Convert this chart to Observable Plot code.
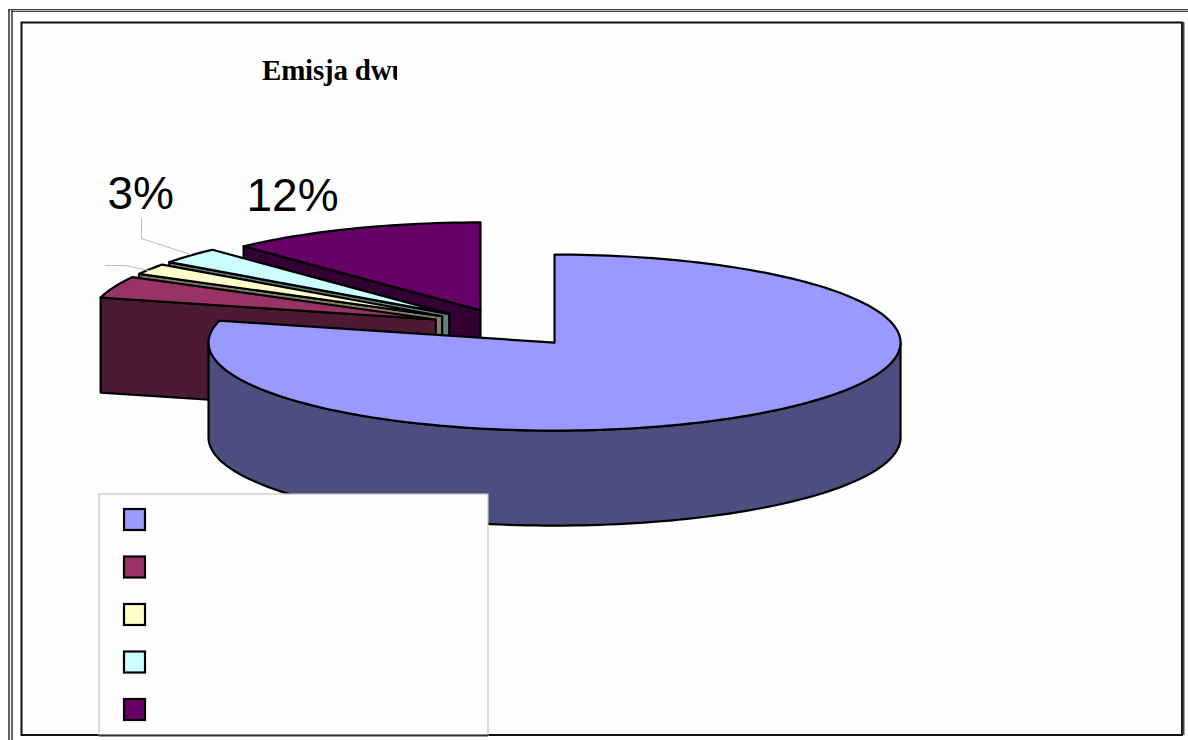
<!DOCTYPE html>
<html lang="pl">
<head>
<meta charset="utf-8">
<title>Emisja dwutlenku</title>
<script src="https://cdn.jsdelivr.net/npm/d3@7"></script>
<script src="https://cdn.jsdelivr.net/npm/@observablehq/plot@0.6"></script>
<style>
  html, body { margin: 0; padding: 0; background: #fff; overflow: hidden; }
  #chart { position: relative; width: 1188px; height: 740px; }
  #chart svg { display: block; position: absolute; left: 0; top: 0; }
  /* The heading is cut short by its narrow text box. */
  #heading {
    position: absolute; left: 262px; top: 52px; width: 135px; height: 38px;
    overflow: hidden; white-space: nowrap;
    font: bold 29px "Liberation Serif", serif; color: #000; line-height: 36px;
    letter-spacing: -0.2px;
  }
</style>
</head>
<body>
<div id="chart"><div id="heading">Emisja dwutlenku</div></div>
<script>
// Sector shares in percent, clockwise from twelve o'clock.
const shares = [79, 4, 2, 3, 12];
const topColors = ["#9999ff", "#993366", "#ffffcc", "#ccffff", "#660066"];
const wallColors = ["#4d4d80", "#4d1a33", "#808066", "#668080", "#330033"];
// How far each sector is pulled away from the pie's centre.
const explosions = [80, 75, 75, 75, 68];
// Which sectors carry a printed percentage, and where the text starts.
const labelledSectors = [3, 4];
const labelLeft = [107, 246];
const labelBaseline = [208, 210];
// Thin leader lines toward the two narrow sectors.
const leaders = [
  [[141, 218], [141, 238], [190, 254]],
  [[105, 265], [125, 265], [148, 270]]
];

// Projection of the tilted pie.
const centre = [505, 326];
const rx = 346, ry = 88, depth = 95;
const tilt = ry / rx;

const rad = (deg) => deg * Math.PI / 180;
let running = 0;
const sectors = shares.map((share, i) => {
  const a0 = running * 3.6;
  running += share;
  const a1 = running * 3.6;
  const mid = rad((a0 + a1) / 2);
  return {
    i, share, a0, a1,
    apex: [
      centre[0] + explosions[i] * Math.sin(mid),
      centre[1] - explosions[i] * tilt * Math.cos(mid)
    ]
  };
});

const rim = (apex, deg) => [apex[0] + rx * Math.sin(rad(deg)), apex[1] - ry * Math.cos(rad(deg))];
const arc = (apex, a0, a1) => {
  const n = Math.max(2, Math.ceil(Math.abs(a1 - a0) / 1.5));
  return d3.range(n + 1).map((k) => rim(apex, a0 + (a1 - a0) * k / n));
};
const drop = (pts) => pts.map(([x, y]) => [x, y + depth]).reverse();

const polygon = (pts, fill) =>
  Plot.line(pts, {
    x: (d) => d[0], y: (d) => d[1], curve: "linear-closed",
    fill, stroke: "#000", strokeWidth: 2.2, strokeLinejoin: "round"
  });

// Painted back to front: each sector's wall, then its top.
const sectorMarks = [];
for (const s of [sectors[4], sectors[3], sectors[2], sectors[1], sectors[0]]) {
  const edge = [s.apex, rim(s.apex, s.a0)];
  const wall = s.i === 0
    ? (() => { const front = arc(s.apex, 90, 270); return [...front, ...drop(front)]; })()
    : [...edge, ...drop(edge)];
  sectorMarks.push(polygon(wall, wallColors[s.i]));
  sectorMarks.push(polygon([s.apex, ...arc(s.apex, s.a0, s.a1)], topColors[s.i]));
}

// Legend box and its key squares.
const legendBox = { x1: 99, x2: 488, y1: 494, y2: 735 };
const keyLeft = 124, keyTop = 509, keySize = 21, keyStep = 47.5;
const keys = shares.map((_, i) => ({
  i, x1: keyLeft, x2: keyLeft + keySize,
  y1: keyTop + i * keyStep, y2: keyTop + i * keyStep + keySize
}));

const labels = labelledSectors.map((s, k) => ({
  text: `${shares[s]}%`, x: labelLeft[k], y: labelBaseline[k]
}));

const chart = Plot.plot({
  width: 1188, height: 740, margin: 0,
  x: { domain: [0, 1188], range: [0, 1188], axis: null },
  y: { domain: [0, 740], range: [0, 740], axis: null },
  style: { background: "transparent" },
  marks: [
    // Double page frame running off the right and bottom edges.
    Plot.ruleY([10], { x1: 8, x2: 1188, stroke: "#444", strokeWidth: 3 }),
    Plot.ruleY([10], { x1: 8, x2: 1188, stroke: "#bbb", strokeWidth: 1 }),
    Plot.ruleX([10], { y1: 10, y2: 740, stroke: "#222", strokeWidth: 4.4 }),
    Plot.ruleX([10], { y1: 10, y2: 740, stroke: "#fff", strokeWidth: 1.6 }),
    // Chart area border.
    Plot.rect([0], { x1: 21.5, x2: 1182, y1: 22.5, y2: 735, fill: "#fefefe", stroke: "#111", strokeWidth: 2 }),
    Plot.ruleX([1183], { y1: 22, y2: 735, stroke: "#444", strokeWidth: 2 }),
    ...sectorMarks,
    ...leaders.map((pts) =>
      Plot.line(pts, { x: (d) => d[0], y: (d) => d[1], stroke: "#bdbdbd", strokeWidth: 1 })
    ),
    Plot.text(labels, {
      x: "x", y: "y", text: "text", textAnchor: "start", lineAnchor: "bottom",
      fontFamily: "Liberation Sans", fontSize: 46, fill: "#000"
    }),
    Plot.rect([legendBox], {
      x1: "x1", x2: "x2", y1: "y1", y2: "y2", fill: "#fefefe", stroke: "#c4c4c4", strokeWidth: 1.2
    }),
    Plot.ruleY([735], { x1: 99, x2: 488, stroke: "#333", strokeWidth: 2 }),
    Plot.rect(keys, {
      x1: "x1", x2: "x2", y1: "y1", y2: "y2",
      fill: (d) => topColors[d.i], stroke: "#000", strokeWidth: 2.2
    })
  ]
});
document.getElementById("chart").prepend(chart);
</script>
</body>
</html>
